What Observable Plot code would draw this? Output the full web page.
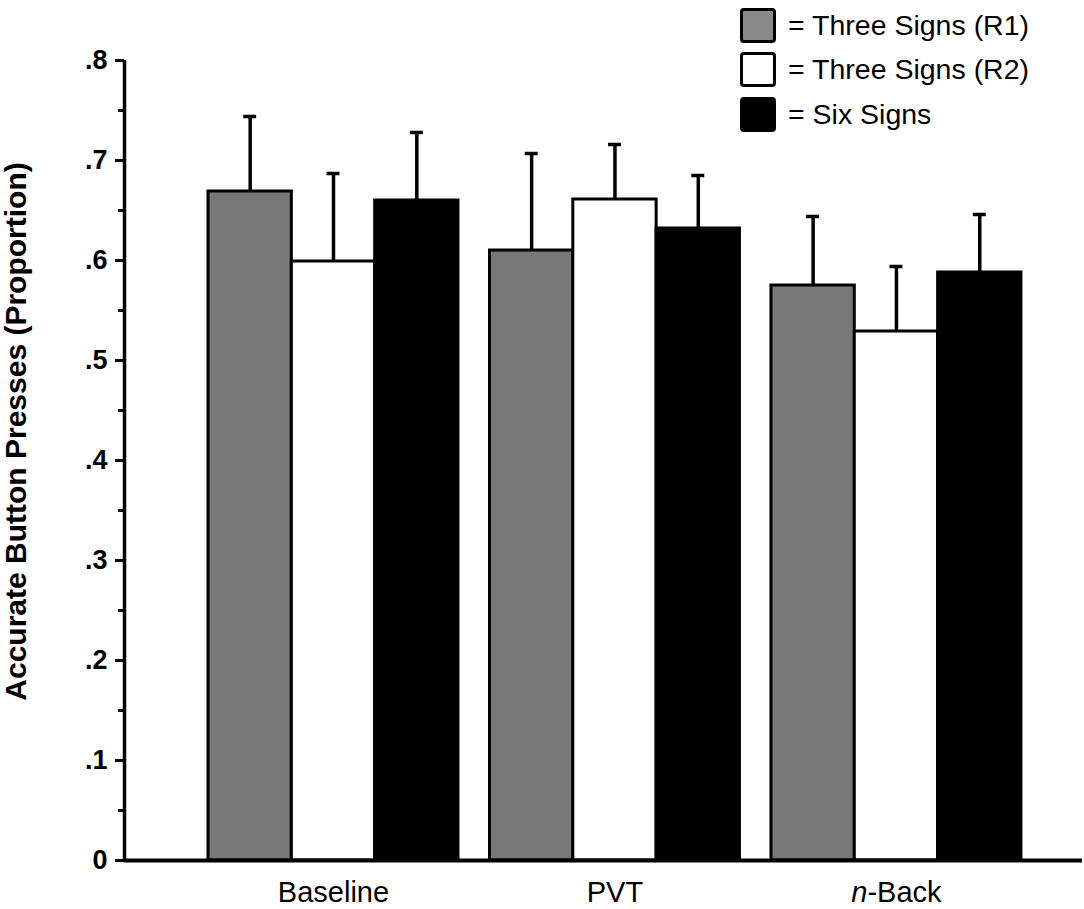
<!DOCTYPE html>
<html>
<head>
<meta charset="utf-8">
<script src="https://cdn.jsdelivr.net/npm/d3@7"></script>
<script src="https://cdn.jsdelivr.net/npm/@observablehq/plot@0.6"></script>
<style>
  html, body { margin: 0; padding: 0; background: #fff; }
  #wrap { position: relative; width: 1084px; height: 909px; font-family: "Liberation Sans", Arial, sans-serif; }
  #legend { position: absolute; left: 740px; top: 3px; }
  .lrow { display: flex; align-items: center; height: 44.5px; }
  .lsw { width: 36px; height: 35px; box-sizing: border-box; border: 3.5px solid #000; border-radius: 4px; }
  .ltx { margin-left: 12px; font-size: 28.5px; color: #000; white-space: nowrap; }
</style>
</head>
<body>
<div id="wrap"><div id="legend"></div></div>
<script>
// ---- data ----
const groups = ["Baseline", "PVT", "n-Back"];
const series = ["Three Signs (R1)", "Three Signs (R2)", "Six Signs"];
const meanR1 = [0.669, 0.610, 0.575];
const meanR2 = [0.599, 0.661, 0.529];
const meanSix = [0.660, 0.632, 0.588];
const errR1 = [0.075, 0.097, 0.069];
const errR2 = [0.088, 0.055, 0.065];
const errSix = [0.068, 0.053, 0.058];
const yTicks = [0, 0.1, 0.2, 0.3, 0.4, 0.5, 0.6, 0.7, 0.8];
const yMinorTicks = [0.05, 0.15, 0.25, 0.35, 0.45, 0.55, 0.65, 0.75];
const yLabel = "Accurate Button Presses (Proportion)";

// ---- styles ----
const seriesFill = ["#787878", "#ffffff", "#000000"];
const legendFill = ["#8a8a8a", "#ffffff", "#000000"];
const barW = 0.296;      // bar width in group units
const capHalf = 0.023;   // error cap half-width in group units
const xDomain = [-0.7425, 2.661];

const means = [meanR1, meanR2, meanSix];
const errs = [errR1, errR2, errSix];
const rows = [];
groups.forEach((g, gi) => {
  series.forEach((s, si) => {
    const xc = gi + (si - 1) * barW;
    rows.push({group: g, series: s, value: means[si][gi], err: errs[si][gi],
      xc, x1: xc - barW / 2, x2: xc + barW / 2});
  });
});

const fmt = d => d === 0 ? "0" : d3.format(".1f")(d).replace(/^0/, "");

const chart = Plot.plot({
  width: 1084,
  height: 909,
  marginLeft: 124,
  marginRight: 2,
  marginTop: 60,
  marginBottom: 49,
  style: {fontFamily: "'Liberation Sans', Arial, sans-serif", background: "transparent", overflow: "visible"},
  x: {domain: xDomain},
  y: {domain: [0, 0.8]},
  color: {domain: series, range: seriesFill},
  marks: [
    Plot.ruleX(rows, {x: "xc", y1: "value", y2: d => d.value + d.err, stroke: "#000", strokeWidth: 3.5}),
    Plot.ruleY(rows, {y: d => d.value + d.err, x1: d => d.xc - capHalf, x2: d => d.xc + capHalf, stroke: "#000", strokeWidth: 3.5}),
    Plot.rect(rows, {x1: "x1", x2: "x2", y1: 0, y2: "value", fill: "series", stroke: "#000", strokeWidth: 3}),
    Plot.axisY({ticks: yTicks, tickFormat: fmt, tickSize: 9, tickPadding: 8, strokeWidth: 3,
      fontSize: 27, fontWeight: "bold", label: null}),
    Plot.axisY({ticks: yMinorTicks, tickFormat: () => "", tickSize: 6, strokeWidth: 3, label: null}),
    Plot.axisX({ticks: [0, 1, 2], tickFormat: i => groups[i], tickSize: 0, tickPadding: 21,
      fontSize: 29, label: null}),
    Plot.ruleX([xDomain[0]], {stroke: "#000", strokeWidth: 3.5}),
    Plot.ruleY([0], {stroke: "#000", strokeWidth: 4}),
    Plot.text([yLabel], {frameAnchor: "left", textAnchor: "middle", rotate: -90, dx: -108, dy: -29,
      fontSize: 30, fontWeight: "bold", fill: "#000"})
  ]
});

// italic "n" in "n-Back"
d3.select(chart).selectAll("text").each(function() {
  if (this.textContent === "n-Back") {
    const el = d3.select(this);
    el.text("");
    el.append("tspan").attr("font-style", "italic").text("n");
    el.append("tspan").text("-Back");
  }
});

document.getElementById("wrap").prepend(chart);

const legend = d3.select("#legend");
series.forEach((s, i) => {
  const row = legend.append("div").attr("class", "lrow");
  row.append("div").attr("class", "lsw").style("background", legendFill[i]);
  row.append("div").attr("class", "ltx").text("= " + s);
});
</script>
</body>
</html>
